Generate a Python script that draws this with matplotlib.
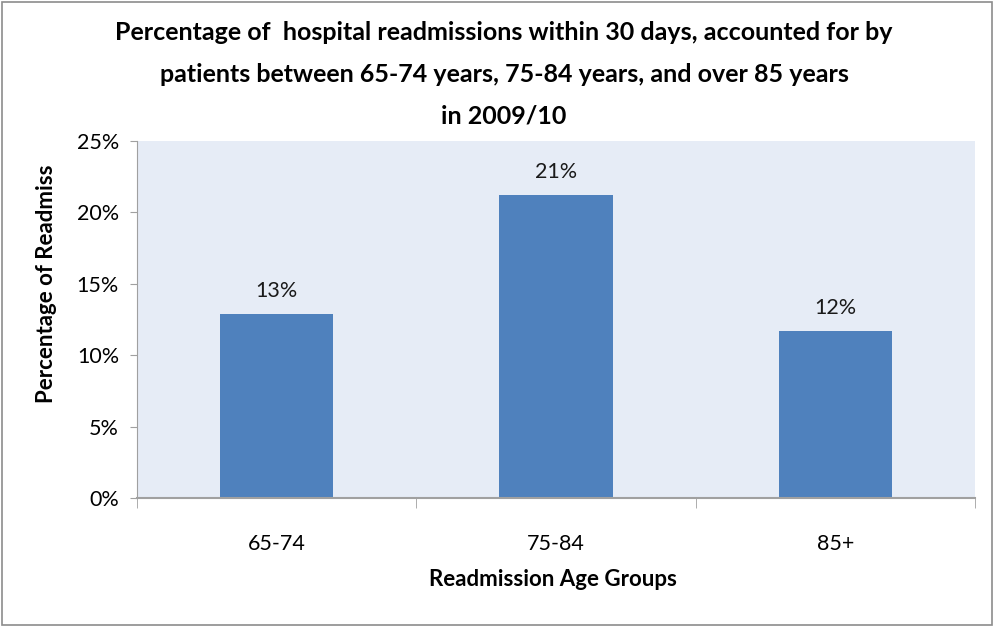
import matplotlib.pyplot as plt
from matplotlib.patches import Rectangle

# datos
grupos = ["65-74", "75-84", "85+"]
porcentajes = [12.9, 21.2, 11.7]
etiquetas = ["13%", "21%", "12%"]
ticks_y = [0, 5, 10, 15, 20, 25]

plt.rcParams['font.family'] = ['Lato', 'DejaVu Sans']

fig = plt.figure(figsize=(9.95, 6.26), dpi=100)
W, H = 995, 626
ax = fig.add_axes([137 / W, 1 - 498 / H, (975 - 137) / W, (498 - 141) / H])
ax.set_facecolor("#E6ECF6")

x = list(range(len(grupos)))
barras = ax.bar(x, porcentajes, width=0.405, color="#4F81BD", zorder=2)
for b, t in zip(barras, etiquetas):
    ax.text(b.get_x() + b.get_width() / 2, b.get_height() + 0.9, t,
            ha="center", va="bottom", fontsize=15.5, color="#1a1a1a")

ax.set_xlim(-0.5, 2.5)
ax.set_ylim(0, 25)
ax.set_yticks(ticks_y)
ax.set_yticklabels([f"{v}%" for v in ticks_y], fontsize=15.5)
ax.set_xticks(x)
ax.set_xticklabels(grupos, fontsize=15.5)
ax.tick_params(axis="x", length=0, pad=26)
ax.tick_params(axis="y", length=5, color="#a0a0a0", pad=8)

# marcas entre categorias
ax.set_xticks([-0.5, 0.5, 1.5, 2.5], minor=True)
ax.tick_params(axis="x", which="minor", length=7, color="#a0a0a0")

for s in ["top", "right"]:
    ax.spines[s].set_visible(False)
ax.spines["left"].set_color("#a0a0a0")
ax.spines["bottom"].set_color("#a0a0a0")
ax.spines["bottom"].set_linewidth(1.5)

fig.text(553 / W, 1 - 579 / H, "Readmission Age Groups", ha="center", va="center",
         fontsize=16, fontweight="bold")
fig.text(47 / W, 1 - 284 / H, "Percentage of Readmiss", ha="center", va="center",
         rotation=90, fontsize=16, fontweight="bold")

titulo = ["Percentage of  hospital readmissions within 30 days, accounted for by",
          "patients between 65-74 years, 75-84 years, and over 85 years",
          "in 2009/10"]
for i, linea in enumerate(titulo):
    fig.text(504 / W, 1 - (32 + 42 * i) / H, linea, ha="center", va="center",
             fontsize=18, fontweight="bold")

# marco
fig.patches.append(Rectangle((0.002, 0.002), 0.995, 0.995, transform=fig.transFigure,
                             fill=False, edgecolor="#8c8c8c", linewidth=1.2))

fig.savefig("out.png", dpi=100)
